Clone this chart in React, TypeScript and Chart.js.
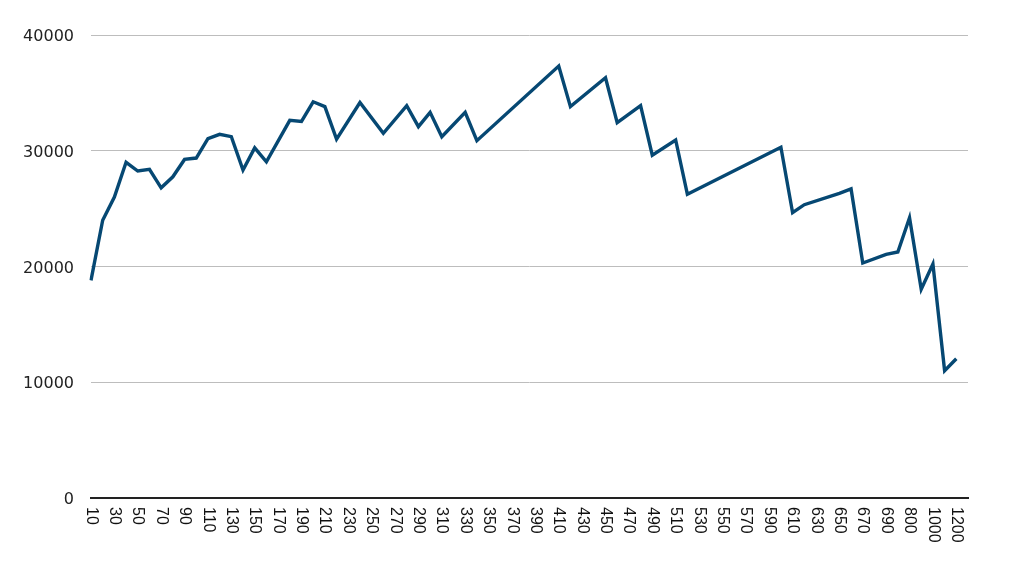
import React, { useEffect, useRef } from "react";
import { Chart, registerables } from "chart.js";

Chart.register(...registerables);

const categories: string[] = [
  "10", "20", "30", "40", "50", "60", "70", "80", "90", "100",
  "110", "120", "130", "140", "150", "160", "170", "180", "190", "200",
  "210", "220", "230", "240", "250", "260", "270", "280", "290", "300",
  "310", "320", "330", "340", "350", "360", "370", "380", "390", "400",
  "410", "420", "430", "440", "450", "460", "470", "480", "490", "500",
  "510", "520", "530", "540", "550", "560", "570", "580", "590", "600",
  "610", "620", "630", "640", "650", "660", "670", "680", "690", "700",
  "800", "900", "1000", "1100", "1200", "",
];

const values: (number | null)[] = [
  18800, 24000, 26000, 29000, 28250, 28400, 26800, 27750, 29250, 29370,
  31050, 31420, 31220, 28340, 30250, 29050, null, 32630, 32530, 34230,
  33810, 31000, null, 34170, null, 31500, null, 33890, 32080, 33320,
  31210, null, 33320, 30870, null, null, null, null, null, null,
  37320, 33810, null, null, 36310, 32420, null, 33890, 29610, null,
  30930, 26250, null, null, null, null, null, null, null, 30300,
  24650, 25340, null, null, 26320, 26700, 20300, null, 21050, 21250,
  24220, 18030, 20220, 11000, 12030, null,
];

const yTicks: number[] = [0, 10000, 20000, 30000, 40000];

const xLabelPlugin = {
  id: "xLabels",
  afterDraw(chart: any) {
    const xs = chart.scales.x;
    const ctx = chart.ctx;
    ctx.save();
    ctx.fillStyle = "#111";
    ctx.font = "16px 'Liberation Sans', Arial, sans-serif";
    ctx.textAlign = "left";
    ctx.textBaseline = "middle";
    categories.forEach((lab, i) => {
      if (i % 2 !== 0 || !lab) return;
      const x = xs.getPixelForValue(i);
      ctx.save();
      ctx.translate(x, chart.chartArea.bottom + 9);
      ctx.rotate(Math.PI / 2);
      ctx.fillText(lab, 0, 0);
      ctx.restore();
    });
    ctx.restore();
  },
};

export default function App() {
  const ref = useRef<HTMLCanvasElement | null>(null);
  useEffect(() => {
    if (!ref.current) return;
    const chart = new Chart(ref.current, {
      type: "line",
      data: {
        labels: categories,
        datasets: [
          {
            data: values,
            borderColor: "#064873",
            borderWidth: 3.4,
            pointRadius: 0,
            tension: 0,
            spanGaps: true,
            fill: false,
          },
        ],
      },
      options: {
        animation: false,
        responsive: false,
        layout: { padding: { left: 0, right: 41, top: 35, bottom: 0 } },
        plugins: { legend: { display: false }, tooltip: { enabled: false } },
        scales: {
          x: {
            type: "category",
            offset: false,
            grid: { display: true, color: "rgba(0,0,0,0)", drawTicks: false },
            border: { display: true, color: "#222", width: 2 },
            ticks: { display: false },
            afterFit: (s: any) => {
              s.height = 70;
            },
          },
          y: {
            min: 0,
            max: 40000,
            afterBuildTicks: (s: any) => {
              s.ticks = yTicks.map((v) => ({ value: v }));
            },
            grid: { color: "#bdbdbd", lineWidth: 1, drawTicks: false },
            border: { display: false },
            ticks: {
              padding: 17,
              labelOffset: 2,
              color: "#222",
              font: { family: "'DejaVu Sans', sans-serif", size: 16 },
              callback: (v: any) => String(v),
            },
            afterFit: (s: any) => {
              s.width = 91;
            },
          },
        },
      },
      plugins: [xLabelPlugin],
    });
    return () => chart.destroy();
  }, []);
  return (
    <div style={{ position: "absolute", left: 0, top: 0, width: 1009, height: 568, background: "#fff" }}>
      <canvas ref={ref} width={1009} height={568} />
    </div>
  );
}
